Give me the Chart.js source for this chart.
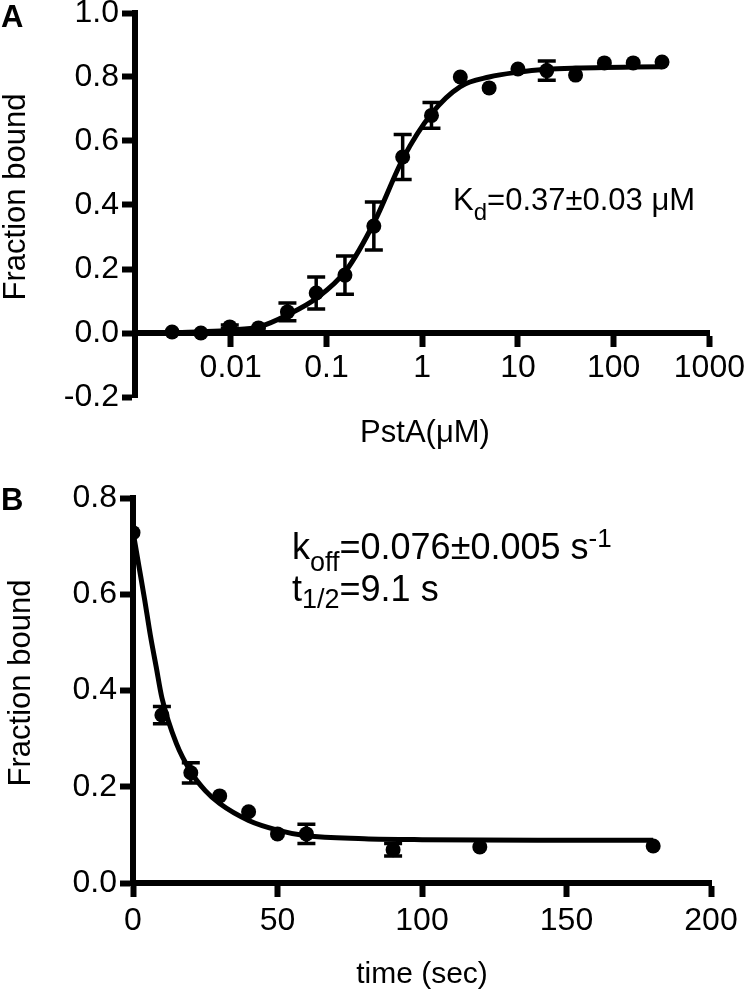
<!DOCTYPE html>
<html>
<head>
<meta charset="utf-8">
<script src="https://cdn.jsdelivr.net/npm/chart.js@4.4.1/dist/chart.umd.min.js"></script>
<style>
    body { margin: 0; background: #fff; }
    #page { position: relative; width: 750px; height: 992px; overflow: hidden;
            font-family: 'Liberation Sans', Arial, sans-serif; color: #000; }
    canvas { position: absolute; left: 0; }
    .txt { position: absolute; white-space: nowrap; line-height: 1; }
    .panel { font-weight: bold; font-size: 31px; }
    .ytitle { font-size: 31px; transform: translate(-50%, -50%) rotate(-90deg); }
    .xtitle { font-size: 31px; transform: translateX(-50%); }
    .sub, .sup { position: relative; }
</style>
</head>
<body>
<div id="page">
    <canvas id="chartA" width="750" height="480" style="top:-10px"></canvas>
    <canvas id="chartB" width="750" height="522" style="top:470px"></canvas>

    <div class="txt panel" style="left:1px; top:1px;">A</div>
    <div class="txt panel" style="left:1px; top:484px;">B</div>

    <div class="txt ytitle" style="left:13.5px; top:197px;">Fraction bound</div>
    <div class="txt ytitle" style="left:18.5px; top:683px;">Fraction bound</div>
    <div class="txt xtitle" style="left:425px; top:416px;">PstA(μM)</div>
    <div class="txt xtitle" style="left:422px; top:958px; font-size:30px;">time (sec)</div>

    <div class="txt" style="left:453px; top:184px; font-size:31px;">K<span class="sub" style="font-size:24px; top:10px;">d</span>=0.37±0.03 μM</div>
    <div class="txt" style="left:292px; top:529px; font-size:36px;">k<span class="sub" style="font-size:27px; top:12px;">off</span>=0.076±0.005 s<span class="sup" style="font-size:26px; top:-12px;">-1</span></div>
    <div class="txt" style="left:292px; top:571px; font-size:36px;">t<span class="sub" style="font-size:27px; top:7px;">1/2</span>=9.1 s</div>
</div>
<script>
// Panel A: equilibrium binding, PstA concentration (uM) vs fraction bound
const pstaConc = [0.00244, 0.00488, 0.00977, 0.0195, 0.0391, 0.0781, 0.156, 0.3125, 0.625,
                  1.25, 2.5, 5, 10, 20, 40, 80, 160, 320];
const pstaBound = [0.003, 0.0, 0.019, 0.016, 0.066, 0.125, 0.181, 0.334, 0.55,
                   0.68, 0.80, 0.766, 0.825, 0.82, 0.806, 0.844, 0.844, 0.847];
const pstaErr = [0, 0, 0.006, 0, 0.028, 0.05, 0.06, 0.075, 0.07,
                 0.04, 0, 0, 0, 0.03, 0, 0, 0, 0];
// fitted curve
const fitConc = [0.00244, 0.005, 0.01, 0.02, 0.04, 0.08, 0.16, 0.32, 0.63,
                 1.25, 2.5, 5, 10, 20, 40, 80, 160, 320];
const fitBound = [0.001, 0.004, 0.009, 0.02, 0.058, 0.11, 0.195, 0.35, 0.545,
                  0.685, 0.77, 0.80, 0.815, 0.824, 0.828, 0.83, 0.831, 0.832];
const concTicks = [0.01, 0.1, 1, 10, 100, 1000];
const boundTicksA = [-0.2, 0, 0.2, 0.4, 0.6, 0.8, 1.0];

// Panel B: dissociation time course
const dissocTime = [0, 10, 20, 30, 40, 50, 60, 90, 120, 180];
const dissocBound = [0.728, 0.349, 0.229, 0.181, 0.148, 0.102, 0.102, 0.069, 0.075, 0.077];
const dissocErr = [0, 0.018, 0.021, 0, 0, 0, 0.02, 0.013, 0, 0];
const fitTime = [0, 2, 4, 6, 8, 10, 15, 20, 25, 30, 40, 50, 60, 80, 100, 140, 180];
const fitDecay = [0.73, 0.66, 0.59, 0.515, 0.45, 0.385, 0.29, 0.231, 0.192, 0.165,
                  0.13, 0.11, 0.098, 0.092, 0.09, 0.089, 0.089];
const timeTicks = [0, 50, 100, 150, 200];
const boundTicksB = [0, 0.2, 0.4, 0.6, 0.8];

Chart.defaults.font.family = "'Liberation Sans', Arial, sans-serif";
Chart.defaults.font.size = 32;
Chart.defaults.color = '#000';

const toPoints = (xs, ys) => xs.map((x, i) => ({ x: x, y: ys[i] }));

// Error bars drawn through the chart's scales
function makeErrorBars(xs, ys, errs) {
    return {
        id: 'errorBars',
        afterDatasetsDraw(chart) {
            const { ctx, scales: { x, y } } = chart;
            ctx.save();
            ctx.strokeStyle = '#000';
            ctx.lineWidth = 3.5;
            xs.forEach((xv, i) => {
                const e = errs[i];
                if (!e) return;
                const px = x.getPixelForValue(xv);
                const top = y.getPixelForValue(ys[i] + e);
                const bot = y.getPixelForValue(ys[i] - e);
                ctx.beginPath();
                ctx.moveTo(px, top); ctx.lineTo(px, bot);
                ctx.moveTo(px - 9, top); ctx.lineTo(px + 9, top);
                ctx.moveTo(px - 9, bot); ctx.lineTo(px + 9, bot);
                ctx.stroke();
            });
            ctx.restore();
        }
    };
}

const gridX = { drawOnChartArea: false, drawTicks: true, tickLength: 14, tickWidth: 6, tickColor: '#000' };
const gridY = { drawOnChartArea: false, drawTicks: true, tickLength: 13, tickWidth: 6, tickColor: '#000' };
const axisBorder = { display: true, color: '#000', width: 6 };

function datasets(xs, ys, fx, fy) {
    return [
        { data: toPoints(xs, ys), pointRadius: 7.5, pointHoverRadius: 7.5,
          backgroundColor: '#000', borderWidth: 0 },
        { data: toPoints(fx, fy), showLine: true, pointRadius: 0, pointHoverRadius: 0,
          borderColor: '#000', borderWidth: 5, cubicInterpolationMode: 'monotone' }
    ];
}

new Chart(document.getElementById('chartA'), {
    type: 'scatter',
    data: { datasets: datasets(pstaConc, pstaBound, fitConc, fitBound) },
    options: {
        responsive: false,
        animation: false,
        layout: { padding: { top: 23, right: 36, bottom: 73, left: 0 } },
        plugins: { legend: { display: false }, tooltip: { enabled: false } },
        scales: {
            x: {
                type: 'logarithmic',
                position: { y: 0 },
                min: 0.001,
                max: 1000,
                afterBuildTicks: s => { s.ticks = concTicks.map(v => ({ value: v })); },
                ticks: { callback: v => String(v), padding: 5, maxRotation: 0, autoSkip: false },
                grid: Object.assign({}, gridX, { tickLength: 11 }),
                border: axisBorder
            },
            y: {
                min: -0.2,
                max: 1.0,
                afterBuildTicks: s => { s.ticks = boundTicksA.map(v => ({ value: v })); },
                afterFit: s => { s.width = 135; },
                ticks: { callback: v => v.toFixed(1), padding: 3 },
                grid: gridY,
                border: axisBorder
            }
        }
    },
    plugins: [makeErrorBars(pstaConc, pstaBound, pstaErr)]
});

new Chart(document.getElementById('chartB'), {
    type: 'scatter',
    data: { datasets: datasets(dissocTime, dissocBound, fitTime, fitDecay) },
    options: {
        responsive: false,
        animation: false,
        layout: { padding: { top: 28, right: 39, bottom: 0, left: 0 } },
        plugins: { legend: { display: false }, tooltip: { enabled: false } },
        scales: {
            x: {
                min: 0,
                max: 200,
                afterBuildTicks: s => { s.ticks = timeTicks.map(v => ({ value: v })); },
                afterFit: s => { s.height = 109; },
                ticks: { callback: v => String(v), padding: 5, maxRotation: 0, autoSkip: false },
                grid: gridX,
                border: axisBorder
            },
            y: {
                min: 0,
                max: 0.8,
                afterBuildTicks: s => { s.ticks = boundTicksB.map(v => ({ value: v })); },
                afterFit: s => { s.width = 133; },
                ticks: { callback: v => v.toFixed(1), padding: 3 },
                grid: gridY,
                border: axisBorder
            }
        }
    },
    plugins: [makeErrorBars(dissocTime, dissocBound, dissocErr)]
});
</script>
</body>
</html>
